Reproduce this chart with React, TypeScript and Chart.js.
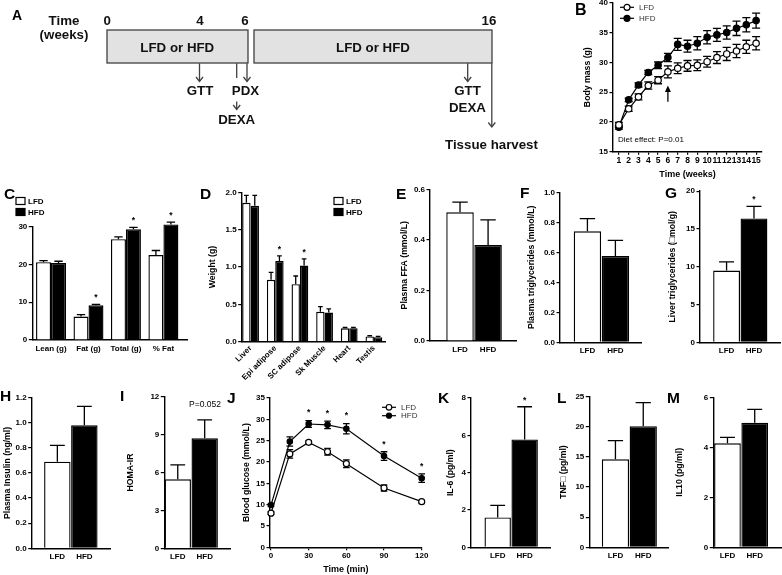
import { useEffect, useRef } from 'react';
import { Chart, registerables } from 'chart.js';

Chart.register(...registerables);

const FONT = '"Liberation Sans", Arial, Helvetica, sans-serif';
Chart.defaults.font.family = FONT;
Chart.defaults.color = '#000';

// ---------------- DATA ----------------
const groups = ['LFD', 'HFD'];

// A: timeline
const aWeeks = ['0', '4', '6', '16'];
const aBoxText = 'LFD or HFD';

// B: body mass
const bWeeks = [1, 2, 3, 4, 5, 6, 7, 8, 9, 10, 11, 12, 13, 14, 15];
const bLfd = [19.5, 22.2, 24.2, 26.1, 27.0, 28.4, 29.0, 29.4, 29.5, 30.1, 30.8, 31.4, 31.9, 32.6, 33.2];
const bLfdErr = [0.4, 0.45, 0.5, 0.6, 0.6, 1.0, 0.9, 0.9, 0.9, 0.9, 1.0, 1.1, 1.1, 1.1, 1.1];
const bHfd = [19.1, 23.7, 26.2, 28.3, 29.5, 30.8, 33.0, 32.7, 33.2, 34.2, 34.6, 35.0, 35.7, 36.3, 37.0];
const bHfdErr = [0.3, 0.3, 0.35, 0.35, 0.55, 0.7, 1.0, 1.0, 1.1, 1.1, 1.1, 1.1, 1.2, 1.2, 1.25];
const bYTicks = [15, 20, 25, 30, 35, 40];
const bArrow = { week: 6, from: 23.4, to: 26.1 };

// C: body composition
const cCats = ['Lean (g)', 'Fat (g)', 'Total (g)', '% Fat'];
const cLfd = [20.6, 6.2, 26.7, 22.5];
const cLfdErr = [0.4, 0.5, 0.6, 1.2];
const cHfd = [20.4, 9.2, 29.3, 30.6];
const cHfdErr = [0.45, 0.25, 0.5, 0.6];
const cSig = [false, true, true, true];
const cYTicks = [0, 10, 20, 30];

// D: tissue weights
const dCats = ['Liver', 'Epi adipose', 'SC adipose', 'Sk Muscle', 'Heart', 'Testis'];
const dLfd = [1.86, 0.83, 0.77, 0.40, 0.18, 0.07];
const dLfdErr = [0.1, 0.1, 0.11, 0.07, 0.01, 0.01];
const dHfd = [1.82, 1.08, 1.02, 0.39, 0.18, 0.06];
const dHfdErr = [0.14, 0.07, 0.09, 0.05, 0.01, 0.01];
const dSig = [false, true, true, false, false, false];
const dYTicks = [0, 0.5, 1.0, 1.5, 2.0];

// E-I, K-M: two-group bars [LFD, HFD]
const eVals = [0.51, 0.38];
const eErr = [0.04, 0.10];
const eYTicks = [0, 0.2, 0.4, 0.6];

const fVals = [0.74, 0.575];
const fErr = [0.085, 0.105];
const fYTicks = [0, 0.2, 0.4, 0.6, 0.8, 1.0];

const gVals = [9.5, 16.4];
const gErr = [1.15, 1.6];
const gSig = [false, true];
const gYTicks = [0, 5, 10, 15, 20];

const hVals = [0.69, 0.98];
const hErr = [0.13, 0.15];
const hYTicks = [0, 0.2, 0.4, 0.6, 0.8, 1.0, 1.2];

const iVals = [5.46, 8.71];
const iErr = [1.14, 1.45];
const iYTicks = [0, 3, 6, 9, 12];
const iNote = 'P=0.052';

// J: GTT
const jTimes = [0, 15, 30, 45, 60, 90, 120];
const jLfd = [8.0, 21.9, 24.6, 22.4, 19.6, 13.9, 10.7];
const jLfdErr = [0.3, 1.0, 0.3, 0.8, 0.9, 0.7, 0.3];
const jHfd = [9.9, 24.8, 28.9, 28.7, 27.8, 21.4, 16.2];
const jHfdErr = [0.3, 1.1, 0.8, 0.9, 1.2, 1.0, 1.0];
const jSig = [false, false, true, true, true, true, true];
const jXTicks = [0, 30, 60, 90, 120];
const jYTicks = [0, 5, 10, 15, 20, 25, 30, 35];

const kVals = [1.6, 5.78];
const kErr = [0.65, 1.75];
const kSig = [false, true];
const kYTicks = [0, 2, 4, 6, 8];

const lVals = [14.6, 20.1];
const lErr = [3.1, 3.9];
const lYTicks = [0, 5, 10, 15, 20, 25];

const mVals = [4.16, 4.98];
const mErr = [0.24, 0.54];
const mYTicks = [0, 2, 4, 6];

// ---------------- GEOMETRY (page px) ----------------
type Geo = { l: number; t: number; w: number; h: number; x0: number; y0: number; x1: number; y1: number };
const GEO: Record<string, Geo> = {
  B: { l: 575, t: -5, w: 207, h: 187, x0: 613, y0: 2.7, x1: 762, y1: 151.7 },
  C: { l: 0, t: 180, w: 195, h: 180, x0: 32.3, y0: 226.7, x1: 187, y1: 340 },
  D: { l: 195, t: 180, w: 195, h: 210, x0: 241.7, y0: 192.4, x1: 385, y1: 341.7 },
  E: { l: 385, t: 180, w: 138, h: 180, x0: 430, y0: 189.5, x1: 516.7, y1: 341 },
  F: { l: 515, t: 180, w: 135, h: 180, x0: 560, y0: 192.3, x1: 641.7, y1: 342.3 },
  G: { l: 650, t: 180, w: 132, h: 180, x0: 700, y0: 191.2, x1: 780, y1: 342.3 },
  H: { l: 0, t: 385, w: 115, h: 190, x0: 31.7, y0: 397.6, x1: 110, y1: 548.3 },
  I: { l: 115, t: 385, w: 122, h: 190, x0: 164.3, y0: 396.7, x1: 230, y1: 548.3 },
  J: { l: 237, t: 385, w: 192, h: 190, x0: 270, y0: 398, x1: 421.7, y1: 547.3 },
  K: { l: 429, t: 385, w: 126, h: 190, x0: 471, y0: 398, x1: 550, y1: 547.3 },
  L: { l: 555, t: 385, w: 118, h: 190, x0: 589.3, y0: 396.7, x1: 668, y1: 547.3 },
  M: { l: 673, t: 385, w: 109, h: 190, x0: 713.3, y0: 397.3, x1: 781.7, y1: 547.3 },
};

// ---------------- HELPERS ----------------
const fmt0 = (v: number) => String(v);
const fmt1 = (v: number) => Number(v).toFixed(1);

function layoutPad(g: Geo) {
  return { left: 0, top: g.y0 - g.t, right: g.l + g.w - g.x1, bottom: 0 };
}

function yAxis(g: Geo, min: number, max: number, ticks: number[], fmt: (v: number) => string, title: string | null, titleOff: number) {
  return {
    type: 'linear', min, max, bounds: 'data',
    afterBuildTicks: (s: any) => { s.ticks = ticks.map((v) => ({ value: v })); },
    afterFit: (s: any) => { s.width = g.x0 - g.l; s.paddingTop = 0; s.paddingBottom = 0; },
    grid: { display: true, drawOnChartArea: false, drawTicks: true, tickLength: 3.5, color: '#000', lineWidth: 1.2 },
    border: { display: true, color: '#000', width: 1.4 },
    ticks: { autoSkip: false, padding: 1.5, font: { size: 8, weight: 'bold' }, color: '#000', callback: (v: any) => fmt(v) },
    title: title
      ? { display: true, text: title, color: '#000', font: { size: 8.7, weight: 'bold' }, padding: { top: titleOff, bottom: 0 } }
      : { display: false },
  };
}

function xCatAxis(g: Geo, min: number, max: number, cats: string[], rotate: boolean) {
  return {
    type: 'linear', min, max, bounds: 'data', offset: false,
    afterBuildTicks: (s: any) => { s.ticks = cats.map((_, i) => ({ value: i + 1 })); },
    afterFit: (s: any) => { s.height = g.t + g.h - g.y1; s.paddingLeft = 0; s.paddingRight = 0; },
    grid: { display: false, drawTicks: false, offset: false },
    border: { display: true, color: '#000', width: 1.4 },
    ticks: {
      autoSkip: false, maxRotation: rotate ? 45 : 0, minRotation: rotate ? 45 : 0, padding: rotate ? 2 : 3.5,
      font: { size: 8, weight: 'bold' }, color: '#000',
      callback: (v: any) => cats[Math.round(v) - 1] ?? '',
    },
  };
}

function xLinAxis(g: Geo, min: number, max: number, ticks: number[], title: string, titlePadB: number, fontSize: number) {
  return {
    type: 'linear', min, max, bounds: 'data',
    afterBuildTicks: (s: any) => { s.ticks = ticks.map((v) => ({ value: v })); },
    afterFit: (s: any) => { s.height = g.t + g.h - g.y1; s.paddingLeft = 0; s.paddingRight = 0; },
    grid: { display: true, drawOnChartArea: false, drawTicks: true, tickLength: 3, color: '#000', lineWidth: 1.2 },
    border: { display: true, color: '#000', width: 1.4 },
    ticks: { autoSkip: false, maxRotation: 0, minRotation: 0, padding: 0.5, font: { size: fontSize, weight: 'bold' }, color: '#000' },
    title: { display: true, text: title, color: '#000', font: { size: 9, weight: 'bold' }, padding: { top: 0, bottom: titlePadB } },
  };
}

function drawStar(ctx: CanvasRenderingContext2D, x: number, cy: number) {
  ctx.save();
  ctx.fillStyle = '#000';
  ctx.font = `bold 8.5px ${FONT}`;
  ctx.textAlign = 'center';
  ctx.textBaseline = 'alphabetic';
  ctx.fillText('*', x, cy + 4.8);
  ctx.restore();
}

function drawErr(chart: any, kind: string) {
  const ctx: CanvasRenderingContext2D = chart.ctx;
  const ys = chart.scales.y;
  chart.data.datasets.forEach((ds: any, di: number) => {
    const meta = chart.getDatasetMeta(di);
    if (meta.type !== kind || !ds.errors) return;
    ctx.save();
    ctx.strokeStyle = '#000';
    ctx.lineWidth = ds.errWidth ?? 1.3;
    meta.data.forEach((el: any, i: number) => {
      const e = ds.errors[i];
      const v = ds.data[i].y;
      const x = el.x;
      const top = ys.getPixelForValue(v + e);
      const bottom = kind === 'bar' ? el.y : ys.getPixelForValue(v - e);
      const cap = kind === 'bar' ? el.width * (ds.capRatio ?? 0.28) : ds.capPx ?? 3.5;
      ctx.beginPath();
      ctx.moveTo(x, bottom);
      ctx.lineTo(x, top);
      ctx.moveTo(x - cap, top);
      ctx.lineTo(x + cap, top);
      if (kind === 'line') {
        ctx.moveTo(x - cap, bottom);
        ctx.lineTo(x + cap, bottom);
      }
      ctx.stroke();
      if (ds.sig && ds.sig[i]) drawStar(ctx, x, top - (ds.sigGap ?? 9));
    });
    ctx.restore();
  });
}

const errorBars = {
  id: 'errorBars',
  beforeDatasetsDraw(chart: any) { drawErr(chart, 'line'); },
  afterDatasetsDraw(chart: any) { drawErr(chart, 'bar'); },
};

function decor(g: Geo, fn: (ctx: CanvasRenderingContext2D, chart: any) => void) {
  return {
    id: 'decor',
    afterDraw(chart: any) {
      const ctx = chart.ctx;
      ctx.save();
      ctx.translate(-g.l, -g.t);
      fn(ctx, chart);
      ctx.restore();
    },
  };
}

function lineLegend(ctx: CanvasRenderingContext2D, x: number, y: number, filled: boolean, label: string, r: number) {
  ctx.save();
  ctx.strokeStyle = '#000';
  ctx.lineWidth = 1.2;
  ctx.beginPath();
  ctx.moveTo(x, y);
  ctx.lineTo(x + 14, y);
  ctx.stroke();
  ctx.beginPath();
  ctx.arc(x + 7, y, r, 0, Math.PI * 2);
  ctx.fillStyle = filled ? '#000' : '#fff';
  ctx.fill();
  ctx.stroke();
  ctx.fillStyle = '#333';
  ctx.font = `8px ${FONT}`;
  ctx.textAlign = 'left';
  ctx.textBaseline = 'middle';
  ctx.fillText(label, x + 19, y + 0.5);
  ctx.restore();
}

function boxLegend(ctx: CanvasRenderingContext2D, x: number, y: number, filled: boolean, label: string) {
  ctx.save();
  ctx.fillStyle = filled ? '#000' : '#fff';
  ctx.fillRect(x, y - 3.5, 9, 7);
  ctx.strokeStyle = '#000';
  ctx.lineWidth = 1.2;
  ctx.strokeRect(x, y - 3.5, 9, 7);
  ctx.fillStyle = '#000';
  ctx.font = `bold 8px ${FONT}`;
  ctx.textAlign = 'left';
  ctx.textBaseline = 'middle';
  ctx.fillText(label, x + 12, y + 0.5);
  ctx.restore();
}

function text(ctx: CanvasRenderingContext2D, s: string, x: number, y: number, size: number, align: CanvasTextAlign, bold = false) {
  ctx.save();
  ctx.fillStyle = '#000';
  ctx.font = `${bold ? 'bold ' : ''}${size}px ${FONT}`;
  ctx.textAlign = align;
  ctx.textBaseline = 'middle';
  ctx.fillText(s, x, y);
  ctx.restore();
}

const baseOpts = (g: Geo) => ({
  animation: false,
  responsive: false,
  maintainAspectRatio: false,
  events: [],
  layout: { padding: layoutPad(g) },
  plugins: { legend: { display: false }, tooltip: { enabled: false } },
});

type SeriesSpec = { values: number[]; errors: number[]; colors: string | string[]; sig?: boolean[]; label: string };

function barConfig(
  g: Geo,
  cats: string[],
  series: SeriesSpec[],
  xr: [number, number],
  yr: [number, number],
  yTicks: number[],
  yFmt: (v: number) => string,
  yTitle: string | null,
  yTitleOff: number,
  catPct: number,
  barPct: number,
  rotate: boolean,
  draw?: (ctx: CanvasRenderingContext2D, chart: any) => void,
) {
  return {
    type: 'bar',
    data: {
      datasets: series.map((s) => ({
        label: s.label,
        data: s.values.map((v, i) => ({ x: i + 1, y: v })),
        backgroundColor: s.colors,
        borderColor: '#000',
        borderWidth: 1.4,
        errors: s.errors,
        sig: s.sig,
        capRatio: 0.28,
        clip: false,
        categoryPercentage: catPct,
        barPercentage: barPct,
      })),
    },
    options: {
      ...baseOpts(g),
      scales: {
        x: xCatAxis(g, xr[0], xr[1], cats, rotate),
        y: yAxis(g, yr[0], yr[1], yTicks, yFmt, yTitle, yTitleOff),
      },
    },
    plugins: [errorBars, ...(draw ? [decor(g, draw)] : [])],
  };
}

function twoGroup(g: Geo, vals: number[], errs: number[], sig: boolean[] | undefined, xr: [number, number], yTicks: number[], yFmt: (v: number) => string, title: string, titleOff: number, draw?: any) {
  return barConfig(
    g, groups,
    [{ label: 'diet', values: vals, errors: errs, colors: ['#fff', '#000'], sig }],
    xr, [yTicks[0], yTicks[yTicks.length - 1]], yTicks, yFmt, title, titleOff, 1, 0.98, false, draw,
  );
}

const lineStyle = (filled: boolean, r: number) => ({
  borderColor: '#000', borderWidth: 1.2, pointRadius: r, pointBackgroundColor: filled ? '#000' : '#fff',
  pointBorderColor: '#000', pointBorderWidth: 1.2, tension: 0, clip: false,
});

// ---------------- CONFIGS ----------------
const configs: Record<string, () => any> = {
  B: () => {
    const g = GEO.B;
    return {
      type: 'line',
      data: {
        datasets: [
          { label: groups[0], data: bWeeks.map((w, i) => ({ x: w, y: bLfd[i] })), errors: bLfdErr, capPx: 4, ...lineStyle(false, 3.2) },
          { label: groups[1], data: bWeeks.map((w, i) => ({ x: w, y: bHfd[i] })), errors: bHfdErr, capPx: 4, ...lineStyle(true, 3.2) },
        ],
      },
      options: {
        ...baseOpts(g),
        scales: {
          x: xLinAxis(g, 0.4, 15.6, bWeeks, 'Time (weeks)', 2.5, 8.5),
          y: yAxis(g, 15, 40, bYTicks, fmt0, 'Body mass (g)', 7.6),
        },
      },
      plugins: [
        errorBars,
        decor(g, (ctx, chart) => {
          lineLegend(ctx, 620, 7.3, false, groups[0], 3);
          lineLegend(ctx, 620, 18.3, true, groups[1], 3);
          text(ctx, 'Diet effect: P=0.01', 618, 140, 8, 'left');
          const x = chart.scales.x.getPixelForValue(bArrow.week) + g.l;
          const yT = chart.scales.y.getPixelForValue(bArrow.to) + g.t;
          const yB = chart.scales.y.getPixelForValue(bArrow.from) + g.t;
          ctx.strokeStyle = '#000';
          ctx.lineWidth = 1.3;
          ctx.beginPath();
          ctx.moveTo(x, yB);
          ctx.lineTo(x, yT + 5);
          ctx.stroke();
          ctx.fillStyle = '#000';
          ctx.beginPath();
          ctx.moveTo(x, yT);
          ctx.lineTo(x - 3, yT + 6.5);
          ctx.lineTo(x + 3, yT + 6.5);
          ctx.closePath();
          ctx.fill();
        }),
      ],
    };
  },
  C: () => barConfig(
    GEO.C, cCats,
    [
      { label: groups[0], values: cLfd, errors: cLfdErr, colors: '#fff' },
      { label: groups[1], values: cHfd, errors: cHfdErr, colors: '#000', sig: cSig },
    ],
    [0.5, 4.63], [0, 30], cYTicks, fmt0, null, 0, 0.8, 1, false,
    (ctx) => {
      boxLegend(ctx, 16, 201, false, groups[0]);
      boxLegend(ctx, 16, 212, true, groups[1]);
    },
  ),
  D: () => barConfig(
    GEO.D, dCats,
    [
      { label: groups[0], values: dLfd, errors: dLfdErr, colors: '#fff' },
      { label: groups[1], values: dHfd, errors: dHfdErr, colors: '#000', sig: dSig },
    ],
    [0.64, 6.45], [0, 2], dYTicks, fmt1, 'Weight (g)', 12.6, 0.68, 1, true,
    (ctx) => {
      boxLegend(ctx, 334, 201, false, groups[0]);
      boxLegend(ctx, 334, 212, true, groups[1]);
    },
  ),
  E: () => twoGroup(GEO.E, eVals, eErr, undefined, [-0.07, 3.02], eYTicks, fmt1, 'Plasma FFA (mmol/L)', 14.6),
  F: () => twoGroup(GEO.F, fVals, fErr, undefined, [0.02, 2.94], fYTicks, fmt1, 'Plasma triglycerides (mmol/L)', 11.3),
  G: () => twoGroup(GEO.G, gVals, gErr, gSig, [0.03, 2.95], gYTicks, fmt0, 'Liver triglycerides (\u25A1mol/g)', 17.3),
  H: () => twoGroup(GEO.H, hVals, hErr, undefined, [0.05, 2.95], hYTicks, fmt1, 'Plasma Insulin (ng/ml)', 2.1),
  I: () => twoGroup(GEO.I, iVals, iErr, undefined, [0.5, 2.94], iYTicks, fmt0, 'HOMA-IR', 10.6,
    (ctx: CanvasRenderingContext2D) => text(ctx, iNote, 205, 404.5, 8.5, 'center')),
  J: () => {
    const g = GEO.J;
    return {
      type: 'line',
      data: {
        datasets: [
          { label: groups[0], data: jTimes.map((t, i) => ({ x: t, y: jLfd[i] })), errors: jLfdErr, capPx: 3.3, ...lineStyle(false, 3) },
          { label: groups[1], data: jTimes.map((t, i) => ({ x: t, y: jHfd[i] })), errors: jHfdErr, capPx: 3.3, sig: jSig, sigGap: 10, ...lineStyle(true, 2.7) },
        ],
      },
      options: {
        ...baseOpts(g),
        scales: {
          x: xLinAxis(g, -0.8, 120, jXTicks, 'Time (min)', 0, 8),
          y: yAxis(g, 0, 35, jYTicks, fmt0, 'Blood glucose (mmol/L)', 4.3),
        },
      },
      plugins: [
        errorBars,
        decor(g, (ctx) => {
          lineLegend(ctx, 382, 407.3, false, groups[0], 2.8);
          lineLegend(ctx, 382, 415.7, true, groups[1], 2.5);
        }),
      ],
    };
  },
  K: () => twoGroup(GEO.K, kVals, kErr, kSig, [0.01, 2.94], kYTicks, fmt0, 'IL-6 (pg/ml)', 16.6),
  L: () => twoGroup(GEO.L, lVals, lErr, undefined, [0.06, 2.89], lYTicks, fmt0, 'TNF\u25A1 (pg/ml)', 2.9),
  M: () => twoGroup(GEO.M, mVals, mErr, undefined, [0.48, 2.99], mYTicks, fmt0, 'IL10 (pg/ml)', 1.6),
};

function ChartBox({ id }: { id: string }) {
  const ref = useRef<HTMLCanvasElement>(null);
  const g = GEO[id];
  useEffect(() => {
    const chart = new Chart(ref.current as HTMLCanvasElement, configs[id]() as any);
    return () => chart.destroy();
  }, [id]);
  return (
    <canvas
      ref={ref}
      width={g.w}
      height={g.h}
      style={{ position: 'absolute', left: g.l, top: g.t, width: g.w, height: g.h }}
    />
  );
}

// ---------------- PANEL A + LETTERS (SVG) ----------------
function Txt({ x, y, s, b = true, a = 'middle', fill = '#111', children }: any) {
  return (
    <text x={x} y={y} fontSize={s} fontWeight={b ? 'bold' : 'normal'} textAnchor={a} fill={fill} fontFamily={FONT}>
      {children}
    </text>
  );
}

function Arrow({ x, y1, y2, head = true }: any) {
  return (
    <g>
      <line x1={x} y1={y1} x2={x} y2={y2} />
      {head && <polyline points={`${x - 3.5},${y2 - 4.5} ${x},${y2} ${x + 3.5},${y2 - 4.5}`} />}
    </g>
  );
}

const letters: [string, number, number, number][] = [
  ['A', 12, 20, 14], ['B', 575, 14.8, 16],
  ['C', 4, 199, 15.5], ['D', 200, 199, 15.5], ['E', 396, 199, 15.5], ['F', 520, 198, 15.5], ['G', 665, 198, 15.5],
  ['H', 0, 401, 15.5], ['I', 120, 401, 15.5], ['J', 227, 403, 15.5], ['K', 438, 403, 15.5], ['L', 557, 403, 15.5], ['M', 667, 403, 15.5],
];

function Overlay() {
  const weekX = [107.3, 200, 245, 489];
  return (
    <svg width={782} height={575} style={{ position: 'absolute', left: 0, top: 0, pointerEvents: 'none' }}>
      <g stroke="#404040" strokeWidth={1.3} fill="none">
        <rect x={107} y={30} width={141} height={33} fill="#e2e2e2" />
        <rect x={254} y={30} width={238} height={33} fill="#e2e2e2" />
        <Arrow x={199.5} y1={63.3} y2={81.5} />
        <Arrow x={236.7} y1={63.3} y2={78} head={false} />
        <Arrow x={247} y1={63.3} y2={81.5} />
        <Arrow x={236.7} y1={101.5} y2={109.5} />
        <Arrow x={467.7} y1={63.3} y2={81.5} />
        <Arrow x={491.8} y1={63.3} y2={127} />
      </g>
      <Txt x={64} y={25} s={13.3}>Time</Txt>
      <Txt x={64} y={39.3} s={13.3}>(weeks)</Txt>
      {aWeeks.map((w, i) => (
        <Txt key={w} x={weekX[i]} y={25} s={13.3}>{w}</Txt>
      ))}
      <Txt x={177.3} y={51.7} s={13.3}>{aBoxText}</Txt>
      <Txt x={373} y={51.7} s={13.3}>{aBoxText}</Txt>
      <Txt x={200} y={95} s={13.3}>GTT</Txt>
      <Txt x={245.5} y={95} s={13.3}>PDX</Txt>
      <Txt x={236.7} y={124} s={13.3}>DEXA</Txt>
      <Txt x={467.5} y={95} s={13.3}>GTT</Txt>
      <Txt x={467.5} y={112} s={13.3}>DEXA</Txt>
      <Txt x={491.5} y={149} s={13.3}>Tissue harvest</Txt>
      {letters.map(([t, x, y, s]) => (
        <Txt key={t} x={x} y={y} s={s} a="start" fill="#000">{t}</Txt>
      ))}
    </svg>
  );
}

export default function App() {
  const ids = ['B', 'C', 'D', 'E', 'F', 'G', 'H', 'I', 'J', 'K', 'L', 'M'];
  return (
    <div style={{ position: 'fixed', left: 0, top: 0, width: 782, height: 575, background: '#fff', overflow: 'hidden', fontFamily: FONT }}>
      {ids.map((id) => (
        <ChartBox key={id} id={id} />
      ))}
      <Overlay />
    </div>
  );
}
